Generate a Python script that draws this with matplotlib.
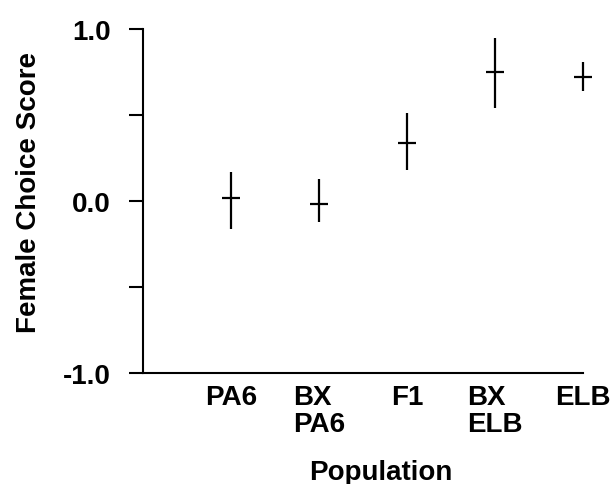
import matplotlib.pyplot as plt

populations = ["PA6", "BX\nPA6", "F1", "BX\nELB", "ELB"]
means = [0.02, -0.02, 0.34, 0.75, 0.72]
upper = [0.17, 0.13, 0.51, 0.95, 0.81]
lower = [-0.16, -0.12, 0.18, 0.54, 0.64]

plt.rcParams['font.family'] = ['Liberation Sans', 'DejaVu Sans']
plt.rcParams['font.weight'] = 'bold'

fig = plt.figure(figsize=(6.13, 4.85), dpi=100)
ax = fig.add_axes([143/613, 1-374/485, 440/613, 344/485])

x = list(range(1, len(populations)+1))
yerr = [[m-l for m, l in zip(means, lower)], [u-m for u, m in zip(upper, means)]]
bars = ax.errorbar(x, means, yerr=yerr, fmt='_', color='black', ecolor='black',
                   elinewidth=1.6, capsize=0, markersize=13, markeredgewidth=1.6)
for artist in bars.get_children():
    artist.set_clip_on(False)

ax.set_xlim(0, 5)
ax.set_ylim(-1.0, 1.0)
ax.set_yticks([-1.0, -0.5, 0.0, 0.5, 1.0])
ax.set_yticklabels(['-1.0', '', '0.0', '', '1.0'], fontsize=20, fontweight='bold')
ax.set_xticks(x)
ax.set_xticklabels(populations, fontsize=20, fontweight='bold', multialignment='left')
ax.tick_params(axis='y', direction='out', length=10, width=1.5, pad=13)
ax.tick_params(axis='x', length=0, pad=8)
for lbl in ax.get_xticklabels():
    lbl.set_linespacing(1.05)

ax.spines['top'].set_visible(False)
ax.spines['right'].set_visible(False)
ax.spines['left'].set_linewidth(1.5)
ax.spines['bottom'].set_linewidth(1.5)

ax.set_xlabel('Population', fontsize=20, fontweight='bold')
ax.xaxis.set_label_coords(0.54, -0.25)
ax.set_ylabel('Female Choice Score', fontsize=20, fontweight='bold')
ax.yaxis.set_label_coords(-0.23, 0.528)

fig.savefig('out.png', dpi=100)
